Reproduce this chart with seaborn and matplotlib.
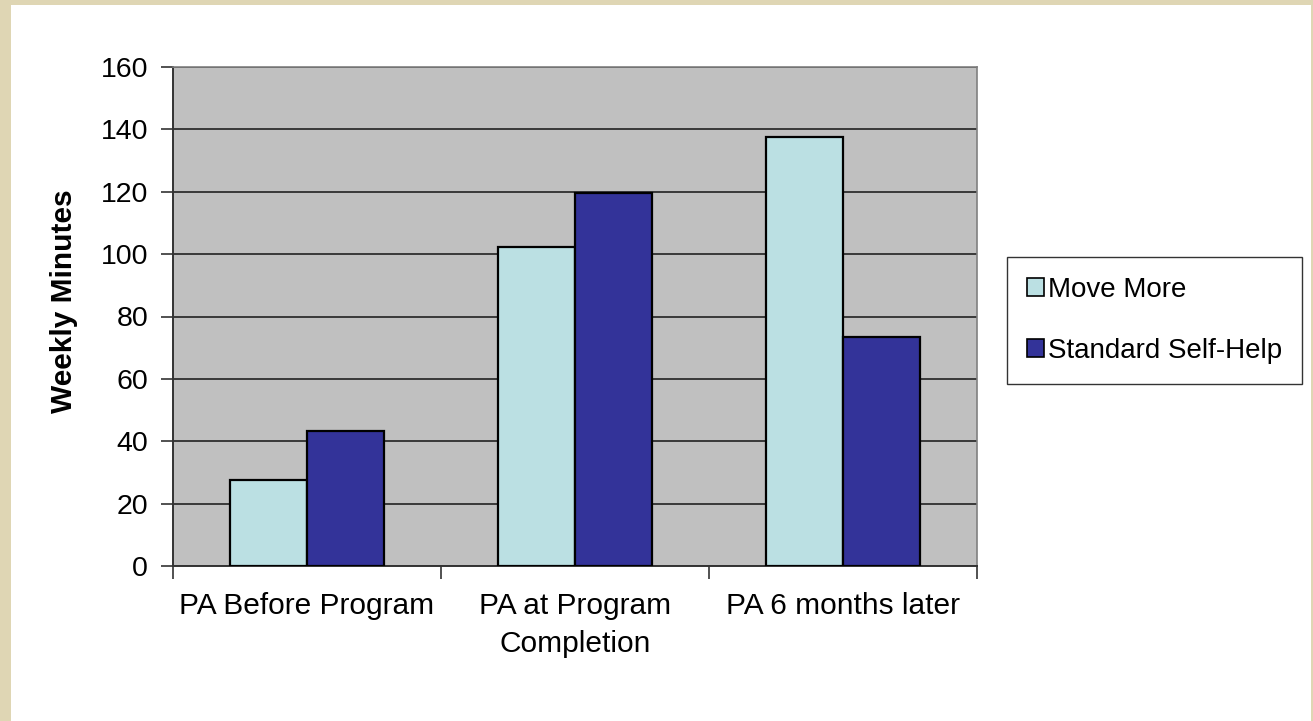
import matplotlib.pyplot as plt
import matplotlib.patches as mpatches
import pandas as pd
import seaborn as sns

# ---- Data ----
categories = ["PA Before Program", "PA at Program\nCompletion", "PA 6 months later"]
groups = ["Move More", "Standard Self-Help"]
move_more = [27.5, 102.3, 137.6]
self_help = [43.4, 119.6, 73.4]

col_light = "#BBE0E3"
col_dark = "#333399"
col_plot = "#C0C0C0"
col_frame = "#DFD6B4"

df = pd.DataFrame({
    "category": categories * 2,
    "group": [groups[0]] * 3 + [groups[1]] * 3,
    "minutes": move_more + self_help,
})

sns.set_theme(style="white")
plt.rcParams["font.family"] = ["Liberation Sans", "DejaVu Sans"]
plt.rcParams["text.color"] = "black"
plt.rcParams["axes.labelcolor"] = "black"
plt.rcParams["xtick.color"] = "black"
plt.rcParams["ytick.color"] = "black"

fig = plt.figure(figsize=(13.13, 7.21), dpi=100, facecolor=col_frame)
# white slide area inside the beige frame
fig.patches.append(mpatches.Rectangle((11 / 1313, 0), 1300 / 1313, 716 / 721,
                                      transform=fig.transFigure, facecolor="white",
                                      edgecolor="none", zorder=-5))

ax = fig.add_axes([173 / 1313, 155 / 721, 804 / 1313, 499 / 721])
ax.set_facecolor(col_plot)

sns.barplot(data=df, x="category", y="minutes", hue="group", order=categories,
            hue_order=groups, palette=[col_light, col_dark], saturation=1, width=0.575,
            edgecolor="black", linewidth=1.6, gap=0, ax=ax, legend=False, zorder=3)

ax.set_ylim(0, 160)
ax.set_xlim(-0.5, 2.5)
ax.set_yticks(range(0, 161, 20))
ax.yaxis.grid(True, color="#222222", linewidth=1.2, zorder=0)
ax.set_axisbelow(True)

# category boundary ticks on the x axis
ax.set_xticks([-0.5, 0.5, 1.5, 2.5], minor=False)
ax.set_xticklabels([])
ax.set_xticks([0, 1, 2], minor=True)
ax.set_xticklabels(categories, minor=True, fontsize=21.5)
ax.tick_params(axis="x", which="minor", length=0, pad=19)
ax.tick_params(axis="x", which="major", direction="out", length=9, width=1.2, color="#333333")
ax.tick_params(axis="y", direction="out", length=9, width=1.2, color="#333333",
               labelsize=20.5, pad=9)
ax.tick_params(axis="both", left=True, bottom=True)
for lbl in ax.get_xticklabels(minor=True):
    lbl.set_linespacing(1.45)

for side in ("left", "bottom"):
    ax.spines[side].set_color("#333333")
    ax.spines[side].set_linewidth(1.4)
for side in ("top", "right"):
    ax.spines[side].set_color("#808080")
    ax.spines[side].set_linewidth(1.2)

ax.set_xlabel("")
ax.set_ylabel("Weekly Minutes", fontsize=21.5, fontweight="bold")
ax.yaxis.set_label_coords(-0.118, 0.531)

handles = [mpatches.Patch(facecolor=col_light, edgecolor="black", linewidth=1.2, label=groups[0]),
           mpatches.Patch(facecolor=col_dark, edgecolor="black", linewidth=1.2, label=groups[1])]
leg = fig.legend(handles=handles, loc="upper left", bbox_to_anchor=(1007 / 1313, 1 - 257 / 721),
                 fontsize=20, frameon=True, fancybox=False, edgecolor="black",
                 handlelength=0.6, handleheight=0.6, handletextpad=0.15,
                 labelspacing=1.25, borderpad=0.72, borderaxespad=0)
leg.get_frame().set_linewidth(1.0)

fig.savefig("out.png", dpi=100, facecolor=col_frame)
